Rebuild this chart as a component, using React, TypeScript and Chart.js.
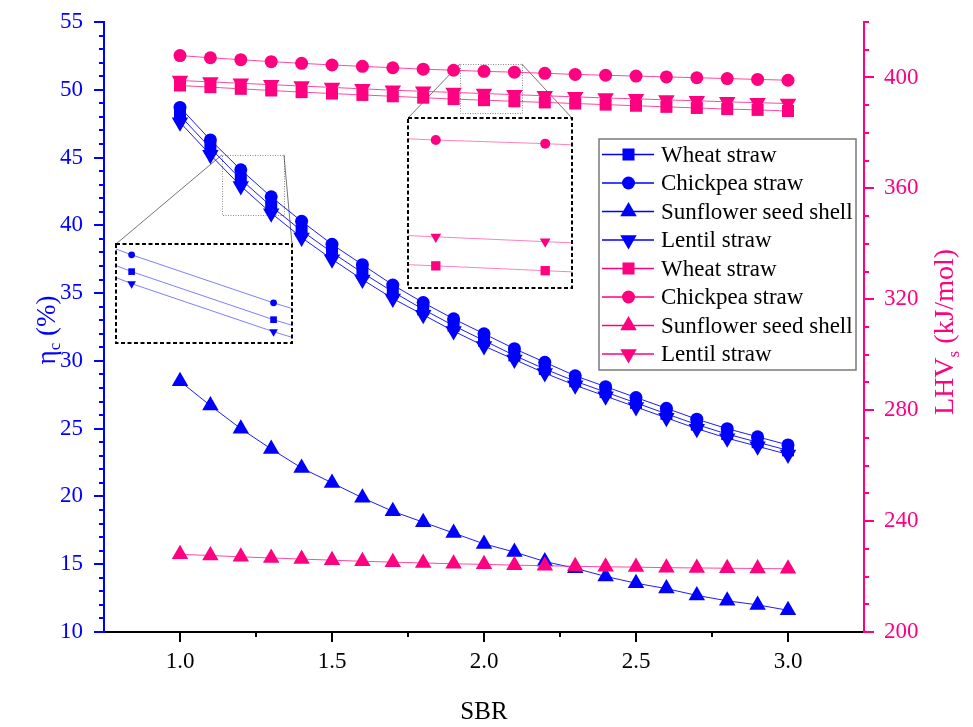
import React, { useEffect, useRef } from 'react';
import { Chart, registerables } from 'chart.js';

Chart.register(...registerables);

// ---------------- DATA ----------------
const sbr = [1.0, 1.1, 1.2, 1.3, 1.4, 1.5, 1.6, 1.7, 1.8, 1.9, 2.0, 2.1, 2.2, 2.3, 2.4, 2.5, 2.6, 2.7, 2.8, 2.9, 3.0];

const seriesNames = ['Wheat straw', 'Chickpea straw', 'Sunflower seed shell', 'Lentil straw'];

// eta_c (%) - left axis
const etaWheat = [48.1, 45.7, 43.4, 41.4, 39.6, 38.0, 36.5, 35.1, 33.8, 32.6, 31.5, 30.4, 29.4, 28.5, 27.7, 26.9, 26.1, 25.3, 24.6, 24.0, 23.4];
const etaChickpea = [48.7, 46.3, 44.1, 42.1, 40.3, 38.6, 37.1, 35.6, 34.3, 33.1, 32.0, 30.9, 29.9, 28.9, 28.1, 27.3, 26.5, 25.7, 25.0, 24.4, 23.8];
const etaSunflower = [28.5, 26.7, 25.0, 23.5, 22.1, 21.0, 19.9, 18.9, 18.1, 17.3, 16.5, 15.9, 15.2, 14.7, 14.1, 13.6, 13.2, 12.7, 12.3, 12.0, 11.6];
const etaLentil = [47.6, 45.2, 42.9, 40.9, 39.1, 37.5, 36.0, 34.6, 33.4, 32.2, 31.1, 30.1, 29.1, 28.2, 27.4, 26.6, 25.8, 25.0, 24.3, 23.7, 23.1];

// LHV_s (kJ/mol) - right axis
const lhvWheat = [397.1, 396.5, 395.9, 395.3, 394.7, 394.2, 393.7, 393.2, 392.7, 392.2, 391.8, 391.4, 391.0, 390.6, 390.2, 389.8, 389.4, 389.0, 388.6, 388.3, 387.9];
const lhvChickpea = [407.9, 407.1, 406.4, 405.7, 405.1, 404.5, 404.0, 403.5, 403.0, 402.6, 402.2, 401.9, 401.5, 401.1, 400.8, 400.5, 400.2, 399.9, 399.6, 399.3, 399.0];
const lhvSunflower = [228.0, 227.6, 227.1, 226.7, 226.3, 225.9, 225.5, 225.2, 224.9, 224.6, 224.4, 224.1, 223.9, 223.7, 223.5, 223.4, 223.2, 223.1, 223.0, 222.9, 222.8];
const lhvLentil = [398.9, 398.4, 397.9, 397.4, 396.9, 396.4, 395.9, 395.4, 395.0, 394.6, 394.2, 393.8, 393.4, 393.0, 392.6, 392.3, 391.9, 391.6, 391.2, 390.9, 390.6];

// tick labels
const xTicks = [1.0, 1.5, 2.0, 2.5, 3.0];
const leftTicks = [10, 15, 20, 25, 30, 35, 40, 45, 50, 55];
const rightTicks = [200, 240, 280, 320, 360, 400];

// axis ranges
const xRange = [0.75, 3.25];
const leftRange = [10, 55];
const rightRange = [200, 420];

// zoom windows (data space) and inset ranges
const zoomLeftX = [1.138, 1.342];
const zoomLeftY = [40.8, 45.2];
const zoomPinkX = [1.921, 2.124];
const zoomPinkY = [387.3, 404.9];
const insetLeftX = [1.189, 1.313];
const insetLeftY = [40.43, 44.55];
const insetPinkX = [1.9746, 2.1245];
const insetPinkY = [389.97, 404.02];

// ---------------- STYLE ----------------
const W = 973;
const H = 727;
const BLUE = '#0000FF';
const PINK = '#FF0080';
const FONT = '"Liberation Serif", "Times New Roman", serif';

const insetLeftRect = { x: 116, y: 244, w: 176, h: 99 };
const insetPinkRect = { x: 408, y: 118, w: 164, h: 170 };

const markerStyles = [
  { pointStyle: 'rect', rotation: 0, radius: 8.5 },
  { pointStyle: 'circle', rotation: 0, radius: 6.5 },
  { pointStyle: 'triangle', rotation: 0, radius: 9.5 },
  { pointStyle: 'triangle', rotation: 180, radius: 9.5 },
];

function drawMarker(ctx: CanvasRenderingContext2D, style: string, rotation: number, r: number, x: number, y: number, color: string) {
  ctx.save();
  ctx.fillStyle = color;
  ctx.beginPath();
  if (style === 'circle') {
    ctx.arc(x, y, r, 0, Math.PI * 2);
  } else if (style === 'rect') {
    const s = Math.SQRT1_2 * r;
    ctx.rect(x - s, y - s, 2 * s, 2 * s);
  } else {
    let rad = (rotation * Math.PI) / 180;
    ctx.moveTo(x + Math.sin(rad) * r, y - Math.cos(rad) * r);
    rad += (2 * Math.PI) / 3;
    ctx.lineTo(x + Math.sin(rad) * r, y - Math.cos(rad) * r);
    rad += (2 * Math.PI) / 3;
    ctx.lineTo(x + Math.sin(rad) * r, y - Math.cos(rad) * r);
    ctx.closePath();
  }
  ctx.fill();
  ctx.restore();
}

function makeDataset(values: number[], i: number, color: string, lineColor: string, axis: string, order: number, radiusScale: number, lineWidth: number, radiusOverride?: number[]) {
  const m = markerStyles[i];
  const r = radiusOverride ? radiusOverride[i] : m.radius * radiusScale;
  return {
    label: seriesNames[i],
    data: sbr.map((x, k) => ({ x, y: values[k] })),
    yAxisID: axis,
    borderColor: lineColor,
    backgroundColor: color,
    borderWidth: lineWidth,
    pointStyle: m.pointStyle,
    pointRotation: m.rotation,
    pointRadius: r,
    pointHoverRadius: r,
    pointBackgroundColor: color,
    pointBorderColor: color,
    pointBorderWidth: 0,
    tension: 0,
    order,
    legendColor: color,
    markerStyleIndex: i,
  };
}

function drawAxisTicks(ctx: CanvasRenderingContext2D, scale: any, majors: number[], minorStep: number, side: string, color: string, skipEnds: boolean) {
  ctx.save();
  ctx.strokeStyle = color;
  ctx.lineWidth = 2;
  ctx.setLineDash([]);
  const marks: [number, number][] = [];
  majors.forEach((v) => marks.push([v, 10]));
  const n = Math.round((scale.max - scale.min) / minorStep);
  for (let k = 0; k <= n; k++) {
    const v = scale.min + k * minorStep;
    if (majors.some((m) => Math.abs(m - v) < 1e-6)) continue;
    if (skipEnds && (k === 0 || k === n)) continue;
    marks.push([v, 5]);
  }
  for (const [v, len] of marks) {
    const p = Math.round(scale.getPixelForValue(v));
    ctx.beginPath();
    if (side === 'left') {
      ctx.moveTo(scale.right, p);
      ctx.lineTo(scale.right - len, p);
    } else if (side === 'right') {
      ctx.moveTo(scale.left, p);
      ctx.lineTo(scale.left + len, p);
    } else {
      ctx.moveTo(p, scale.top);
      ctx.lineTo(p, scale.top + len);
    }
    ctx.stroke();
  }
  ctx.restore();
}

function drawVerticalTitle(ctx: CanvasRenderingContext2D, parts: { text: string; sub?: boolean }[], cx: number, cy: number, color: string, size: number) {
  ctx.save();
  ctx.translate(cx, cy);
  ctx.rotate(-Math.PI / 2);
  ctx.fillStyle = color;
  ctx.textBaseline = 'alphabetic';
  ctx.textAlign = 'left';
  const fonts = parts.map((p) => `${p.sub ? Math.round(size * 0.62) : size}px ${FONT}`);
  const widths = parts.map((p, i) => {
    ctx.font = fonts[i];
    return ctx.measureText(p.text).width;
  });
  const total = widths.reduce((a, b) => a + b, 0);
  let x = -total / 2;
  const base = size * 0.33;
  parts.forEach((p, i) => {
    ctx.font = fonts[i];
    ctx.fillText(p.text, x, p.sub ? base + size * 0.2 : base);
    x += widths[i];
  });
  ctx.restore();
}

function drawZoom(ctx: CanvasRenderingContext2D, xs: any, ys: any, zx: number[], zy: number[], inset: { x: number; y: number; w: number; h: number }) {
  const x0 = xs.getPixelForValue(zx[0]);
  const x1 = xs.getPixelForValue(zx[1]);
  const y0 = ys.getPixelForValue(zy[1]);
  const y1 = ys.getPixelForValue(zy[0]);
  ctx.save();
  ctx.strokeStyle = '#8a8a8a';
  ctx.lineWidth = 1;
  ctx.setLineDash([1, 1.5]);
  ctx.strokeRect(Math.round(x0) + 0.5, Math.round(y0) + 0.5, Math.round(x1 - x0), Math.round(y1 - y0));
  ctx.setLineDash([]);
  ctx.strokeStyle = '#505050';
  ctx.lineWidth = 0.8;
  ctx.beginPath();
  ctx.moveTo(x0, y0);
  ctx.lineTo(inset.x, inset.y);
  ctx.moveTo(x1, y0);
  ctx.lineTo(inset.x + inset.w, inset.y);
  ctx.stroke();
  ctx.restore();
}

function drawLegend(ctx: CanvasRenderingContext2D, chart: any) {
  const box = { x: 599, y: 139, w: 257, h: 231 };
  ctx.save();
  ctx.fillStyle = '#ffffff';
  ctx.fillRect(box.x, box.y, box.w, box.h);
  ctx.strokeStyle = '#7a7a7a';
  ctx.lineWidth = 1.5;
  ctx.strokeRect(box.x, box.y, box.w, box.h);
  const rowH = 28.5;
  const firstY = 154.5;
  chart.data.datasets.forEach((ds: any, row: number) => {
    const y = firstY + row * rowH;
    ctx.strokeStyle = ds.legendColor;
    ctx.lineWidth = 1.3;
    ctx.beginPath();
    ctx.moveTo(602, y);
    ctx.lineTo(654, y);
    ctx.stroke();
    const m = markerStyles[ds.markerStyleIndex];
    drawMarker(ctx, m.pointStyle, m.rotation, ds.pointRadius, 628.5, y, ds.pointBackgroundColor);
    ctx.fillStyle = '#000';
    ctx.font = `23px ${FONT}`;
    ctx.textAlign = 'left';
    ctx.textBaseline = 'middle';
    ctx.fillText(ds.label, 661, y + 1);
  });
  ctx.restore();
}

const decorPlugin = {
  id: 'decor',
  beforeDatasetsDraw(chart: any) {
    const ctx = chart.ctx;
    drawZoom(ctx, chart.scales.x, chart.scales.y, zoomLeftX, zoomLeftY, insetLeftRect);
    drawZoom(ctx, chart.scales.x, chart.scales.y2, zoomPinkX, zoomPinkY, insetPinkRect);
  },
  afterDraw(chart: any) {
    const ctx = chart.ctx;
    drawAxisTicks(ctx, chart.scales.x, xTicks, 0.25, 'bottom', '#000', true);
    drawAxisTicks(ctx, chart.scales.y, leftTicks, 1, 'left', BLUE, false);
    drawAxisTicks(ctx, chart.scales.y2, rightTicks, 10, 'right', PINK, false);

    ctx.save();
    ctx.fillStyle = '#000';
    ctx.font = `25px ${FONT}`;
    ctx.textAlign = 'center';
    ctx.textBaseline = 'middle';
    const xc = (chart.chartArea.left + chart.chartArea.right) / 2;
    ctx.fillText('SBR', xc, 712);
    ctx.restore();

    drawVerticalTitle(ctx, [{ text: 'η' }, { text: 'c', sub: true }, { text: ' (%)' }], 46, 330, BLUE, 27);
    drawVerticalTitle(ctx, [{ text: 'LHV' }, { text: 's', sub: true }, { text: ' (kJ/mol)' }], 944, 332, PINK, 28);

    drawLegend(ctx, chart);
  },
};

const insetFramePlugin = {
  id: 'insetFrame',
  beforeDraw(chart: any) {
    const ctx = chart.ctx;
    ctx.save();
    ctx.fillStyle = '#ffffff';
    ctx.fillRect(0, 0, chart.width, chart.height);
    ctx.restore();
  },
  afterDraw(chart: any) {
    const ctx = chart.ctx;
    const a = chart.chartArea;
    ctx.save();
    ctx.strokeStyle = '#000';
    ctx.lineWidth = 2;
    ctx.setLineDash([4, 2.5]);
    ctx.strokeRect(a.left, a.top, a.right - a.left, a.bottom - a.top);
    ctx.restore();
  },
};

function Inset(props: { rect: { x: number; y: number; w: number; h: number }; xr: number[]; yr: number[]; values: number[][]; color: string; lineColor: string; radii: number[] }) {
  const ref = useRef<HTMLCanvasElement>(null);
  useEffect(() => {
    const { xr, yr, values, color, lineColor, radii } = props;
    const idx = [0, 1, 3];
    const chart = new Chart(ref.current as HTMLCanvasElement, {
      type: 'line',
      data: {
        datasets: idx.map((i, k) => ({ ...makeDataset(values[i], i, color, lineColor, 'y', 10 - k, 1, 1, radii), clip: 0 })) as any,
      },
      options: {
        responsive: false,
        animation: false,
        events: [],
        layout: { padding: 1, autoPadding: false },
        scales: {
          x: { type: 'linear', display: false, min: xr[0], max: xr[1] },
          y: { type: 'linear', display: false, min: yr[0], max: yr[1] },
        },
        plugins: { legend: { display: false }, tooltip: { enabled: false }, title: { display: false } },
      } as any,
      plugins: [insetFramePlugin],
    });
    return () => chart.destroy();
  }, []);
  const { rect } = props;
  return (
    <canvas
      ref={ref}
      width={rect.w + 2}
      height={rect.h + 2}
      style={{ position: 'absolute', left: rect.x - 1, top: rect.y - 1, width: rect.w + 2, height: rect.h + 2 }}
    />
  );
}

export default function App() {
  const ref = useRef<HTMLCanvasElement>(null);
  useEffect(() => {
    const etaSeries = [etaWheat, etaChickpea, etaSunflower, etaLentil];
    const lhvSeries = [lhvWheat, lhvChickpea, lhvSunflower, lhvLentil];
    const datasets = [
      ...etaSeries.map((v, i) => makeDataset(v, i, BLUE, BLUE, 'y', 8 - i, 1, 0.9)),
      ...lhvSeries.map((v, i) => makeDataset(v, i, PINK, '#FF3399', 'y2', 4 - i, 1, 0.9)),
    ];
    const tickFont = { family: FONT, size: 23 };
    const fitY = (w: number) => (s: any) => {
      s.width = w;
      s.paddingTop = 0;
      s.paddingBottom = 0;
    };
    const chart = new Chart(ref.current as HTMLCanvasElement, {
      type: 'line',
      data: { datasets: datasets as any },
      options: {
        responsive: false,
        animation: false,
        events: [],
        layout: { padding: { top: 22, left: 0, right: 0, bottom: 0 }, autoPadding: false },
        scales: {
          x: {
            type: 'linear',
            position: 'bottom',
            min: xRange[0],
            max: xRange[1],
            afterBuildTicks: (s: any) => {
              s.ticks = xTicks.map((v) => ({ value: v }));
            },
            afterFit: (s: any) => {
              s.height = 95;
              s.paddingLeft = 0;
              s.paddingRight = 0;
            },
            ticks: { callback: (v: any) => Number(v).toFixed(1), font: tickFont, color: '#000', padding: 16, maxRotation: 0, autoSkip: false },
            grid: { display: false, drawTicks: false, drawOnChartArea: false },
            border: { display: true, color: '#000', width: 2 },
          },
          y: {
            type: 'linear',
            position: 'left',
            min: leftRange[0],
            max: leftRange[1],
            afterBuildTicks: (s: any) => {
              s.ticks = leftTicks.map((v) => ({ value: v }));
            },
            afterFit: fitY(104),
            ticks: { callback: (v: any) => String(v), font: tickFont, color: BLUE, padding: 21, autoSkip: false },
            grid: { display: false, drawTicks: false, drawOnChartArea: false },
            border: { display: true, color: BLUE, width: 2 },
          },
          y2: {
            type: 'linear',
            position: 'right',
            min: rightRange[0],
            max: rightRange[1],
            afterBuildTicks: (s: any) => {
              s.ticks = rightTicks.map((v) => ({ value: v }));
            },
            afterFit: fitY(109),
            ticks: { callback: (v: any) => String(v), font: tickFont, color: PINK, padding: 20, autoSkip: false },
            grid: { display: false, drawTicks: false, drawOnChartArea: false },
            border: { display: true, color: PINK, width: 2 },
          },
        },
        plugins: { legend: { display: false }, tooltip: { enabled: false }, title: { display: false } },
      } as any,
      plugins: [decorPlugin],
    });
    return () => chart.destroy();
  }, []);

  return (
    <div style={{ position: 'absolute', left: 0, top: 0, width: W, height: H, background: '#fff' }}>
      <canvas ref={ref} width={W} height={H} style={{ position: 'absolute', left: 0, top: 0, width: W, height: H }} />
      <Inset
        rect={insetLeftRect}
        xr={insetLeftX}
        yr={insetLeftY}
        values={[etaWheat, etaChickpea, etaSunflower, etaLentil]}
        color={BLUE}
        lineColor="#7F7FFF"
        radii={[4.7, 3.4, 5, 5]}
      />
      <Inset
        rect={insetPinkRect}
        xr={insetPinkX}
        yr={insetPinkY}
        values={[lhvWheat, lhvChickpea, lhvSunflower, lhvLentil]}
        color={PINK}
        lineColor="#FF80C0"
        radii={[6.6, 5, 6.2, 6.2]}
      />
    </div>
  );
}
